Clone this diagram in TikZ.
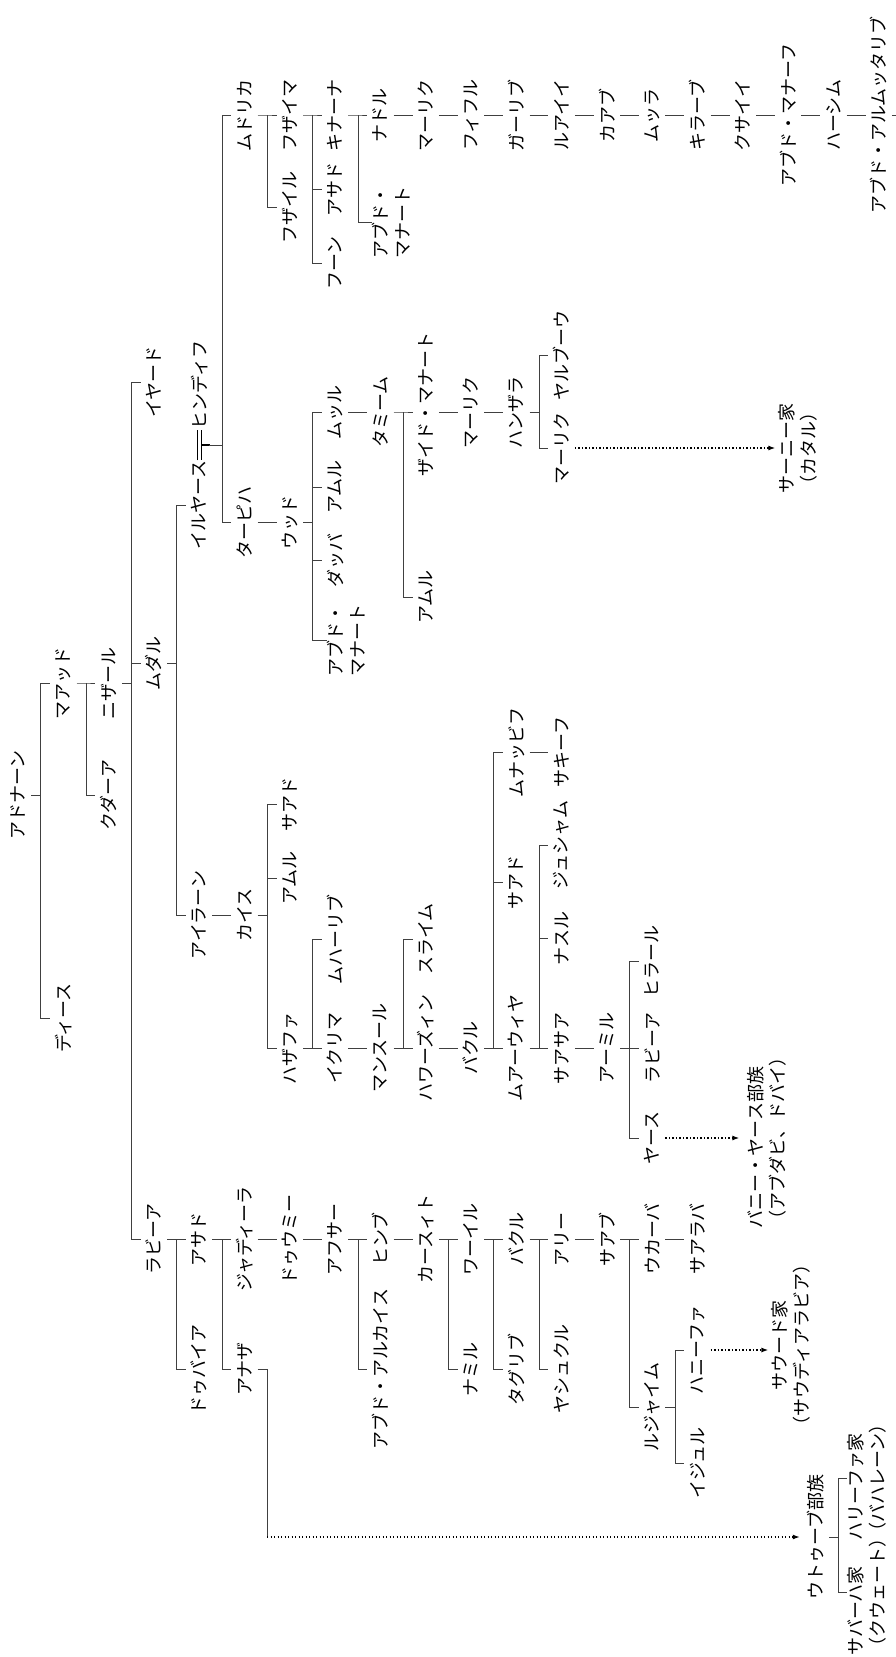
\documentclass[tikz,border=0pt]{standalone}
\usepackage{fontspec}
\usepackage{tikz}
\usetikzlibrary{arrows.meta,calc}
\newfontfamily\jpfam{Noto Sans CJK JP}
\newcommand\jpfont{\jpfam\fontsize{18}{22}\selectfont}

\begin{document}
\begin{tikzpicture}[
  x=1pt,y=-1pt,
  nm/.style={rotate=90,inner sep=0pt,minimum height=26pt,font=\jpfont},
  nml/.style={nm,align=left},
  nmc/.style={nm,align=center},
  ln/.style={draw=black!75,line width=0.8pt},
  dotarrow/.style={draw=black,line width=1.3pt,dash pattern=on 1.3pt off 2.2pt,-{Latex[length=7pt,width=5pt]},shorten >=3pt},
]
\useasboundingbox (0,0) rectangle (896,1657);

% generations 0-3
\node[nm] (adnan) at (18,795) {アドナーン};
\node[nm] (maadd) at (63.3,683) {マアッド};
\node[nm] (dis) at (63.3,1018) {ディース};
\node[nm] (nizar) at (108.6,683) {ニザール};
\node[nm] (qudaa) at (108.6,795) {クダーア};
\node[nm] (iyad) at (153.9,382) {イヤード};
\node[nm] (mudar) at (153.9,663) {ムダル};
\node[nm] (rabia) at (153.9,1239) {ラビーア};

% generation 4
\node[nm] (ilyas) at (199.2,505) {イルヤース};
\node[nm] (hindif) at (199.2,385) {ヒンディフ};
\node[nm] (aylan) at (199.2,915) {アイラーン};
\node[nm] (asad) at (199.2,1239) {アサド};
\node[nm] (dubaia) at (199.2,1369) {ドゥバイア};

% generation 5
\node[nm] (mudrika) at (244.5,115) {ムドリカ};
\node[nm] (tabikha) at (244.5,522) {ターピハ};
\node[nm] (qays) at (244.5,915) {カイス};
\node[nm] (jadila) at (244.5,1239) {ジャディーラ};
\node[nm] (anaza) at (244.5,1369) {アナザ};

% generation 6
\node[nm] (khuzayma) at (289.8,115) {フザイマ};
\node[nm] (hudhayl) at (289.8,207) {フザイル};
\node[nm] (udd) at (289.8,522) {ウッド};
\node[nm] (saad1) at (289.8,804) {サアド};
\node[nm] (amr1) at (289.8,878) {アムル};
\node[nm] (khasafa) at (289.8,1048) {ハザファ};
\node[nm] (duwmi) at (289.8,1239) {ドゥウミー};

% generation 7
\node[nm] (kinana) at (335.1,115) {キナーナ};
\node[nm] (asad2) at (335.1,189) {アサド};
\node[nm] (hun) at (335.1,263) {フーン};
\node[nm] (murr) at (335.1,412) {ムッル};
\node[nm] (amr2) at (335.1,487) {アムル};
\node[nm] (dabba) at (335.1,560) {ダッバ};
\node[nml] (manat1) at (346,640) {アブド・\\マナート};
\node[nm] (muharib) at (335.1,939) {ムハーリブ};
\node[nm] (ikrima) at (335.1,1048) {イクリマ};
\node[nm] (afsa) at (335.1,1239) {アフサー};

% generation 8
\node[nm] (nadr) at (380.4,115) {ナドル};
\node[nml] (manat2) at (391.3,222) {アブド・\\マナート};
\node[nm] (tamim) at (380.4,412) {タミーム};
\node[nm] (mansur) at (380.4,1048) {マンスール};
\node[nm] (hinb) at (380.4,1239) {ヒンブ};
\node[nm] (abdqays) at (380.4,1369) {アブド・アルカイス};

% generation 9
\node[nm] (malik1) at (425.7,115) {マーリク};
\node[nm] (zaydmanat) at (425.7,404) {ザイド・マナート};
\node[nm] (amr3) at (425.7,597) {アムル};
\node[nm] (sulaym) at (425.7,939) {スライム};
\node[nm] (hawazin) at (425.7,1048) {ハワーズィン};
\node[nm] (qasit) at (425.7,1239) {カースィト};

% generation 10
\node[nm] (fihr) at (471,115) {フィフル};
\node[nm] (malik2) at (471,412) {マーリク};
\node[nm] (bakr1) at (471,1048) {バクル};
\node[nm] (wail) at (471,1239) {ワーイル};
\node[nm] (namir) at (471,1369) {ナミル};

% generation 11
\node[nm] (ghalib) at (516.3,115) {ガーリブ};
\node[nm] (hanzala) at (516.3,412) {ハンザラ};
\node[nm] (munabbih) at (516.3,752) {ムナッビフ};
\node[nm] (saad2) at (516.3,882) {サアド};
\node[nm] (muawiya) at (516.3,1048) {ムアーウィヤ};
\node[nm] (bakr2) at (516.3,1239) {バクル};
\node[nm] (taghlib) at (516.3,1369) {タグリブ};

% generation 12
\node[nm] (luayy) at (561.6,115) {ルアイイ};
\node[nm] (yarbu) at (561.6,355) {ヤルブーウ};
\node[nm] (malik3) at (561.6,448) {マーリク};
\node[nm] (thaqif) at (561.6,752) {サキーフ};
\node[nm] (jusham) at (561.6,845) {ジュシャム};
\node[nm] (nasr) at (561.6,938) {ナスル};
\node[nm] (saasaa) at (561.6,1048) {サアサア};
\node[nm] (ali) at (561.6,1239) {アリー};
\node[nm] (yashkur) at (561.6,1369) {ヤシュクル};

% generation 13
\node[nm] (kab) at (606.9,115) {カアブ};
\node[nm] (amir) at (606.9,1048) {アーミル};
\node[nm] (saab) at (606.9,1239) {サアブ};

% generation 14
\node[nm] (murra) at (652.2,115) {ムッラ};
\node[nm] (hilal) at (652.2,961) {ヒラール};
\node[nm] (rabia2) at (652.2,1048) {ラビーア};
\node[nm] (yas) at (652.2,1138) {ヤース};
\node[nm] (ukaba) at (652.2,1239) {ウカーバ};
\node[nm] (lujaym) at (652.2,1407) {ルジャイム};

% generation 15
\node[nm] (kilab) at (697.5,115) {キラーブ};
\node[nm] (thalaba) at (697.5,1239) {サアラバ};
\node[nm] (hanifa) at (697.5,1350) {ハニーファ};
\node[nm] (ijl) at (697.5,1463) {イジュル};

% generations 16-19
\node[nm] (qusayy) at (742.8,115) {クサイイ};
\node[nm] (abdmanaf) at (788.1,115) {アブド・マナーフ};
\node[nm] (hashim) at (833.4,115) {ハーシム};
\node[nm] (abdmuttalib) at (878.7,115) {アブド・アルムッタリブ};
\coordinate (edge) at (896,115);

% houses and tribes
\node[nmc] (thani) at (798,448) {サーニー家\\（カタル）};
\node[nml] (baniyas) at (767,1138) {バニー・ヤース部族\\（アブダビ、ドバイ）};
\node[nmc] (saud) at (791,1345) {サウード家\\（サウディアラビア）};
\node[nm] (utub) at (816,1537) {ウトゥーブ部族};
\node[nml] (khalifa) at (867,1478) {ハリーファ家\\（バハレーン）};
\node[nml] (sabah) at (867,1592) {サバーハ家\\（クウェート）};
\coordinate (anaza-c) at (267.15,1537);

% connectors
\draw[ln] (adnan.south) -- ++(9.65,0) coordinate (adnan-b) |- (maadd.north) (adnan-b) |- (dis.north);
\draw[ln] (maadd.south) -- ++(9.65,0) coordinate (maadd-b) |- (nizar.north) (maadd-b) |- (qudaa.north);
\draw[ln] (nizar.south) -- ++(9.65,0) coordinate (nizar-b) |- (iyad.north) (nizar-b) |- (mudar.north) (nizar-b) |- (rabia.north);
\draw[ln] (mudar.south) -- ++(9.65,0) coordinate (mudar-b) |- (ilyas.north) (mudar-b) |- (aylan.north);
\draw[ln] (rabia.south) -- ++(9.65,0) coordinate (rabia-b) |- (asad.north) (rabia-b) |- (dubaia.north);

% Ilyas = Hindif
\draw[draw=black,double=white,double distance=2.6pt,line width=1pt] (ilyas.east) -- (hindif.west);
\coordinate (marr) at ($(ilyas.east)!.5!(hindif.west)$);
\draw[draw=black,line width=2pt] (marr) ++(2,0) -- ++(9,0);
\draw[ln] (marr) ++(10,0) -- ++(13,0) coordinate (ilyas-b) |- (mudrika.north) (ilyas-b) |- (tabikha.north);

\draw[ln] (aylan.south) -- (qays.north);
\draw[ln] (asad.south) -- ++(9.65,0) coordinate (asad-b) |- (jadila.north) (asad-b) |- (anaza.north);
\draw[ln] (mudrika.south) -- ++(9.65,0) coordinate (mudrika-b) |- (khuzayma.north) (mudrika-b) |- (hudhayl.north);
\draw[ln] (tabikha.south) -- (udd.north);
\draw[ln] (qays.south) -- ++(9.65,0) coordinate (qays-b) |- (saad1.north) (qays-b) |- (amr1.north) (qays-b) |- (khasafa.north);
\draw[ln] (jadila.south) -- (duwmi.north);
\draw[ln] (anaza.south) -| (anaza-c);
\draw[dotarrow] (anaza-c) -- (utub.north);

\draw[ln] (khuzayma.south) -- ++(9.65,0) coordinate (khuzayma-b) |- (kinana.north) (khuzayma-b) |- (asad2.north) (khuzayma-b) |- (hun.north);
\draw[ln] (udd.south) -- ++(9.65,0) coordinate (udd-b) |- (murr.north) (udd-b) |- (amr2.north) (udd-b) |- (dabba.north) (udd-b) |- (manat1.north);
\draw[ln] (khasafa.south) -- ++(9.65,0) coordinate (khasafa-b) |- (ikrima.north) (khasafa-b) |- (muharib.north);
\draw[ln] (duwmi.south) -- (afsa.north);

\draw[ln] (kinana.south) -- ++(9.65,0) coordinate (kinana-b) |- (nadr.north) (kinana-b) |- (manat2.north);
\draw[ln] (murr.south) -- (tamim.north);
\draw[ln] (ikrima.south) -- (mansur.north);
\draw[ln] (afsa.south) -- ++(9.65,0) coordinate (afsa-b) |- (hinb.north) (afsa-b) |- (abdqays.north);

\draw[ln] (nadr.south) -- (malik1.north);
\draw[ln] (tamim.south) -- ++(9.65,0) coordinate (tamim-b) |- (zaydmanat.north |- tamim) (tamim-b) |- (amr3.north);
\draw[ln] (mansur.south) -- ++(9.65,0) coordinate (mansur-b) |- (hawazin.north) (mansur-b) |- (sulaym.north);
\draw[ln] (hinb.south) -- (qasit.north);

\draw[ln] (malik1.south) -- (fihr.north);
\draw[ln] (zaydmanat.south |- malik2) -- (malik2.north);
\draw[ln] (hawazin.south) -- (bakr1.north);
\draw[ln] (qasit.south) -- ++(9.65,0) coordinate (qasit-b) |- (wail.north) (qasit-b) |- (namir.north);

\draw[ln] (fihr.south) -- (ghalib.north);
\draw[ln] (malik2.south) -- (hanzala.north);
\draw[ln] (bakr1.south) -- ++(9.65,0) coordinate (bakr1-b) |- (muawiya.north) (bakr1-b) |- (saad2.north) (bakr1-b) |- (munabbih.north);
\draw[ln] (wail.south) -- ++(9.65,0) coordinate (wail-b) |- (bakr2.north) (wail-b) |- (taghlib.north);

\draw[ln] (ghalib.south) -- (luayy.north);
\draw[ln] (hanzala.south) -- ++(9.65,0) coordinate (hanzala-b) |- (yarbu.north) (hanzala-b) |- (malik3.north);
\draw[ln] (munabbih.south) -- (thaqif.north);
\draw[ln] (muawiya.south) -- ++(9.65,0) coordinate (muawiya-b) |- (saasaa.north) (muawiya-b) |- (nasr.north) (muawiya-b) |- (jusham.north);
\draw[ln] (bakr2.south) -- ++(9.65,0) coordinate (bakr2-b) |- (ali.north) (bakr2-b) |- (yashkur.north);

\draw[ln] (luayy.south) -- (kab.north);
\draw[dotarrow] (malik3.south) -- (malik3.south -| thani.north);
\draw[ln] (saasaa.south) -- (amir.north);
\draw[ln] (ali.south) -- (saab.north);

\draw[ln] (kab.south) -- (murra.north);
\draw[ln] (amir.south) -- ++(9.65,0) coordinate (amir-b) |- (hilal.north) (amir-b) |- (rabia2.north) (amir-b) |- (yas.north);
\draw[ln] (saab.south) -- ++(9.65,0) coordinate (saab-b) |- (ukaba.north) (saab-b) |- (lujaym.north);

\draw[ln] (murra.south) -- (kilab.north);
\draw[dotarrow,shorten >=8pt] (yas.south) -- (baniyas.north);
\draw[ln] (ukaba.south) -- (thalaba.north);
\draw[ln] (lujaym.south) -- ++(9.65,0) coordinate (lujaym-b) |- (hanifa.north) (lujaym-b) |- (ijl.north);

\draw[ln] (kilab.south) -- (qusayy.north);
\draw[dotarrow] (hanifa.south) -- (hanifa.south -| saud.north);
\draw[ln] (qusayy.south) -- (abdmanaf.north);
\draw[ln] (abdmanaf.south) -- (hashim.north);
\draw[ln] (hashim.south) -- (abdmuttalib.north);
\draw[ln] (abdmuttalib.south) -- (edge);

\draw[ln] (utub.south) -- ++(9.65,0) coordinate (utub-b) |- (khalifa.north) (utub-b) |- (sabah.north);
\end{tikzpicture}
\end{document}
